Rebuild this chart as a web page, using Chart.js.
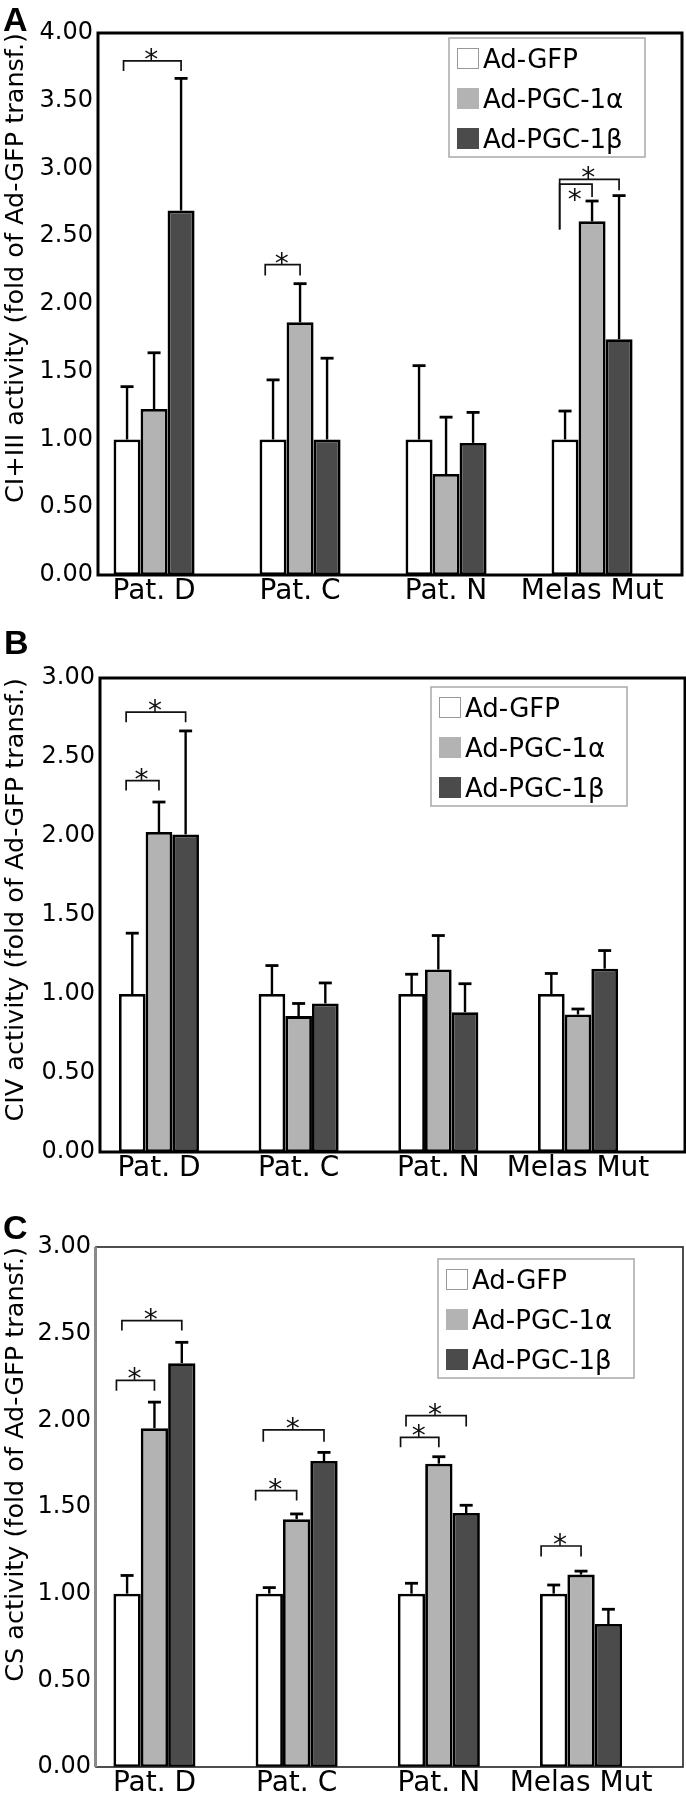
<!DOCTYPE html>
<html>
<head>
<meta charset="utf-8">
<script src="https://cdn.jsdelivr.net/npm/chart.js@4.4.0/dist/chart.umd.min.js"></script>
<style>
  body { margin: 0; background: #fff; }
  #page { position: relative; width: 686px; height: 1800px; }
  canvas { position: absolute; left: 0; }
  .tag { position: absolute; font: bold 34px "Liberation Sans", Arial, sans-serif; line-height: 1; }
</style>
</head>
<body>
<div id="page">
  <canvas id="chartA" width="686" height="615" style="top:0px"></canvas>
  <canvas id="chartB" width="686" height="580" style="top:615px"></canvas>
  <canvas id="chartC" width="686" height="605" style="top:1195px"></canvas>
  <div class="tag" style="left:3px;top:2px">A</div>
  <div class="tag" style="left:4px;top:625px">B</div>
  <div class="tag" style="left:3px;top:1210px">C</div>
</div>
<script>
// categories and series
const categories = ['Pat. D', 'Pat. C', 'Pat. N', 'Melas Mut'];
const seriesLabels = ['Ad-GFP', 'Ad-PGC-1α', 'Ad-PGC-1β'];
const barColors = ['#ffffff', '#b3b3b3', '#4b4b4b'];

// A : CI+III activity (mean and SD, fold of Ad-GFP)
const ciiiGfp = [1.00, 1.00, 1.00, 1.00];
const ciiiAlpha = [1.225, 1.865, 0.745, 2.61];
const ciiiBeta = [2.69, 1.00, 0.975, 1.74];
const ciiiGfpSd = [0.39, 0.44, 0.545, 0.21];
const ciiiAlphaSd = [0.415, 0.285, 0.42, 0.15];
const ciiiBetaSd = [0.975, 0.60, 0.225, 1.06];
const ciiiMax = 4;

// B : CIV activity
const civGfp = [1.00, 1.00, 1.00, 1.00];
const civAlpha = [2.025, 0.86, 1.155, 0.87];
const civBeta = [2.01, 0.94, 0.885, 1.16];
const civGfpSd = [0.385, 0.18, 0.125, 0.13];
const civAlphaSd = [0.19, 0.08, 0.215, 0.035];
const civBetaSd = [0.655, 0.13, 0.18, 0.115];
const civMax = 3;

// C : CS activity
const csGfp = [1.00, 1.00, 1.00, 1.00];
const csAlpha = [1.955, 1.43, 1.75, 1.11];
const csBeta = [2.33, 1.765, 1.465, 0.825];
const csGfpSd = [0.105, 0.035, 0.06, 0.05];
const csAlphaSd = [0.15, 0.03, 0.04, 0.02];
const csBetaSd = [0.12, 0.05, 0.045, 0.085];
const csMax = 3;

// significance brackets: [category, from series, to series, level, left leg end, right leg end, leg shift, star below]
const ciiiStars = [
  [0, 0, 2, 3.795, 3.72, 3.72, 0.37, false],
  [1, 0, 1, 2.29, 2.21, 2.21, 0.21, false],
  [3, 0, 2, 2.92, 2.55, 2.84, 0.30, false],
  [3, 0, 1, 2.885, 2.55, 2.79, 0.30, true]
];
const civStars = [
  [0, 0, 2, 2.784, 2.72, 2.72, 0.27, false],
  [0, 0, 1, 2.351, 2.288, 2.288, 0.27, false]
];
const csStars = [
  [0, 0, 1, 2.231, 2.171, 2.171, 0.11, false],
  [0, 0, 2, 2.575, 2.518, 2.518, 0.31, false],
  [1, 0, 1, 1.594, 1.537, 1.537, 0.00, false],
  [1, 0, 2, 1.945, 1.877, 1.877, 0.28, false],
  [2, 0, 1, 1.902, 1.845, 1.845, 0.10, false],
  [2, 0, 2, 2.027, 1.964, 1.964, 0.30, false],
  [3, 0, 1, 1.275, 1.214, 1.214, 0.04, false]
];

Chart.defaults.font.family = '"DejaVu Sans", Verdana, sans-serif';
Chart.defaults.color = '#000';

// error bars, brackets, frame and legend box
const extras = {
  id: 'extras',
  afterDatasetsDraw(chart, args, o) {
    const ctx = chart.ctx;
    const ys = chart.scales.y;
    const a = chart.chartArea;
    ctx.save();
    ctx.lineCap = 'butt';

    chart.data.datasets.forEach((ds, di) => {
      chart.getDatasetMeta(di).data.forEach((bar, i) => {
        const top = ys.getPixelForValue(ds.data[i].y + ds.sd[i]);
        ctx.strokeStyle = '#000';
        ctx.lineWidth = 2.4;
        ctx.beginPath();
        ctx.moveTo(bar.x, bar.y);
        ctx.lineTo(bar.x, top);
        ctx.stroke();
        ctx.lineWidth = 2.8;
        ctx.beginPath();
        ctx.moveTo(bar.x - 6.5, top);
        ctx.lineTo(bar.x + 6.5, top);
        ctx.stroke();
      });
    });

    ctx.strokeStyle = '#111';
    ctx.fillStyle = '#111';
    ctx.lineWidth = 1.7;
    ctx.font = '28px "DejaVu Sans"';
    ctx.textAlign = 'center';
    ctx.textBaseline = 'alphabetic';
    o.brackets.forEach(([cat, from, to, level, legL, legR, shift, below]) => {
      const b1 = chart.getDatasetMeta(from).data[cat];
      const b2 = chart.getDatasetMeta(to).data[cat];
      const x1 = b1.x - b1.width / 2 + shift * b1.width;
      const x2 = b2.x;
      const yl = ys.getPixelForValue(level);
      ctx.beginPath();
      ctx.moveTo(x1, ys.getPixelForValue(legL));
      ctx.lineTo(x1, yl);
      ctx.lineTo(x2, yl);
      ctx.lineTo(x2, ys.getPixelForValue(legR));
      ctx.stroke();
      ctx.fillText('*', (x1 + x2) / 2 - 1, below ? yl + 25 : yl + 8);
    });

    // frame of the plot
    ctx.strokeStyle = o.frame.color;
    ctx.lineWidth = o.frame.width;
    ctx.strokeRect(a.left, a.top, a.right - a.left, a.bottom - a.top);
    if (o.frame.leftColor) {
      ctx.strokeStyle = o.frame.leftColor;
      ctx.lineWidth = o.frame.leftWidth;
      ctx.beginPath();
      ctx.moveTo(a.left - 0.5, a.top);
      ctx.lineTo(a.left - 0.5, a.bottom);
      ctx.stroke();
    }

    // legend
    const lw = 196, lh = 119;
    const lx = a.right - o.legend.right - lw;
    const ly = a.top + o.legend.top;
    ctx.fillStyle = '#fff';
    ctx.fillRect(lx, ly, lw, lh);
    ctx.strokeStyle = '#a8a8a8';
    ctx.lineWidth = 1.5;
    ctx.strokeRect(lx, ly, lw, lh);
    ctx.font = '26px "DejaVu Sans"';
    ctx.textAlign = 'left';
    chart.data.datasets.forEach((ds, i) => {
      const sy = ly + 10 + 40 * i;
      ctx.fillStyle = ds.backgroundColor;
      ctx.fillRect(lx + 8, sy, 22, 21);
      ctx.strokeStyle = i === 0 ? '#999' : ds.backgroundColor;
      ctx.lineWidth = 1;
      ctx.strokeRect(lx + 8.5, sy + 0.5, 21, 20);
      ctx.fillStyle = '#000';
      ctx.fillText(ds.label, lx + 34, sy + 20);
    });
    ctx.restore();
  }
};

function drawPanel(canvasId, means, sds, yMax, yTitle, brackets, look) {
  new Chart(document.getElementById(canvasId), {
    type: 'bar',
    data: {
      datasets: seriesLabels.map((label, s) => ({
        label: label,
        data: means[s].map((v, i) => ({ x: i, y: v })),
        sd: sds[s],
        backgroundColor: barColors[s],
        borderColor: '#000',
        borderWidth: 2.8,
        borderSkipped: false,
        categoryPercentage: look.group,
        barPercentage: 1
      }))
    },
    options: {
      responsive: false,
      animation: false,
      layout: { padding: { left: 0, top: look.top, right: look.right, bottom: 0 } },
      plugins: {
        legend: { display: false },
        tooltip: { enabled: false },
        extras: { brackets: brackets, frame: look.frame, legend: look.legend }
      },
      scales: {
        x: {
          type: 'linear',
          offset: false,
          min: look.xMin,
          max: look.xMax,
          grid: { display: false, drawTicks: false },
          border: { display: false },
          afterBuildTicks: ax => { ax.ticks = categories.map((c, i) => ({ value: i })); },
          afterFit: ax => { ax.height = look.xHeight; },
          ticks: {
            font: { size: 28 },
            padding: 0,
            maxRotation: 0,
            autoSkip: false,
            callback: v => categories[v]
          }
        },
        y: {
          min: 0,
          max: yMax,
          grid: { display: false, drawTicks: false },
          border: { display: false },
          afterFit: ax => { ax.width = look.yWidth; },
          ticks: { stepSize: 0.5, font: { size: 24 }, padding: 5, callback: v => v.toFixed(2) },
          title: {
            display: true,
            text: yTitle,
            align: 'end',
            font: { size: 25.5 },
            padding: { top: 1, bottom: 0 }
          }
        }
      }
    },
    plugins: [extras]
  });
}

drawPanel('chartA', [ciiiGfp, ciiiAlpha, ciiiBeta], [ciiiGfpSd, ciiiAlphaSd, ciiiBetaSd], ciiiMax,
  'CI+III activity (fold of Ad-GFP transf.)', ciiiStars,
  { top: 33, right: 4, yWidth: 98, xHeight: 40, xMin: -0.384, xMax: 3.616, group: 0.555,
    frame: { width: 3, color: '#000' }, legend: { right: 37, top: 5 } });

drawPanel('chartB', [civGfp, civAlpha, civBeta], [civGfpSd, civAlphaSd, civBetaSd], civMax,
  'CIV activity (fold of Ad-GFP transf.)', civStars,
  { top: 63, right: 1, yWidth: 100, xHeight: 43, xMin: -0.422, xMax: 3.766, group: 0.573,
    frame: { width: 3, color: '#000' }, legend: { right: 58, top: 9 } });

drawPanel('chartC', [csGfp, csAlpha, csBeta], [csGfpSd, csAlphaSd, csBetaSd], csMax,
  'CS activity (fold of Ad-GFP transf.)', csStars,
  { top: 52, right: 3, yWidth: 96, xHeight: 33, xMin: -0.411, xMax: 3.717, group: 0.577,
    frame: { width: 1.6, color: '#222', leftColor: '#8a8a8a', leftWidth: 3 }, legend: { right: 49, top: 12 } });
</script>
</body>
</html>
